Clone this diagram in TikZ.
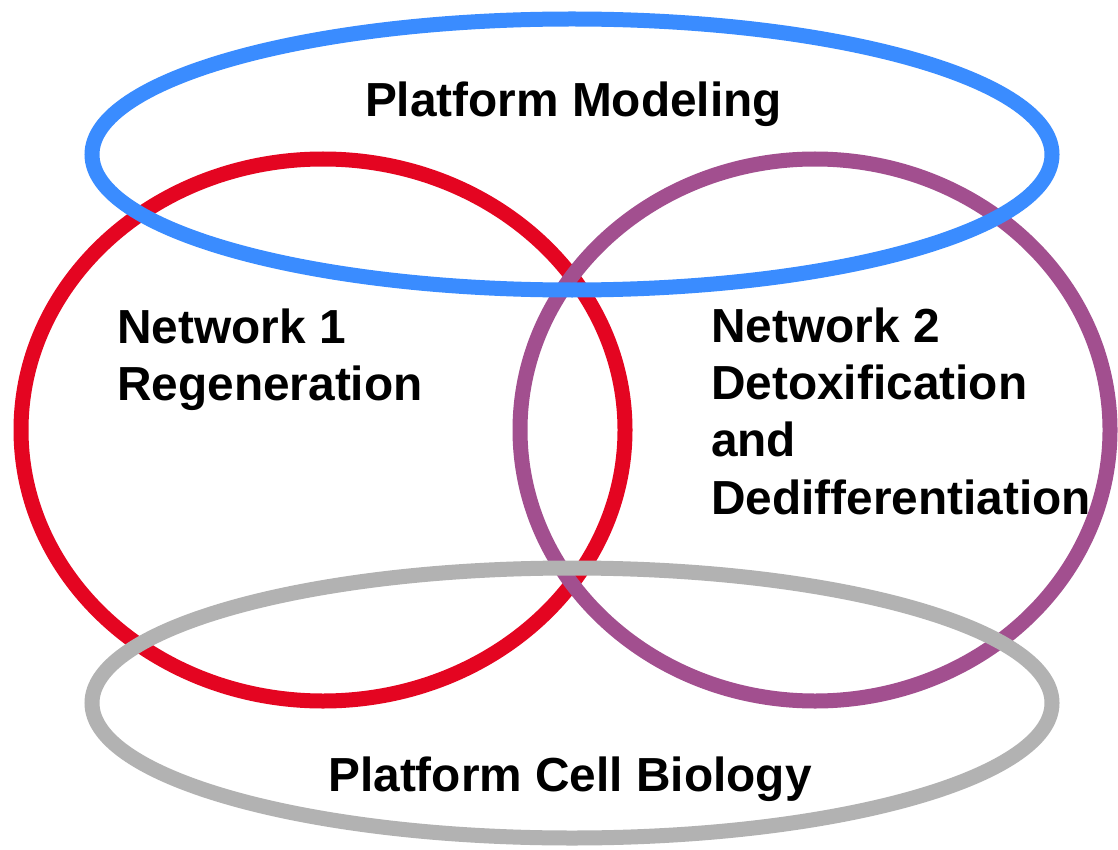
\documentclass[tikz,border=0pt]{standalone}
\usepackage{fontspec}
\setmainfont{Liberation Sans}
\definecolor{cred}{RGB}{228,5,33}
\definecolor{cpurple}{RGB}{162,79,143}
\definecolor{cblue}{RGB}{58,140,255}
\definecolor{cgray}{RGB}{178,178,178}
\tikzset{
  ring/.style={line width=15pt},
  lbl/.style={font=\fontsize{47.8}{57.3}\selectfont\bfseries, inner sep=0pt, align=left},
}
\begin{document}
\begin{tikzpicture}[x=1pt,y=-1pt]
\useasboundingbox (0,0) rectangle (1118,850);
\fill[white] (0,0) rectangle (1118,850);
\draw[ring, cred] (323,430) ellipse [x radius=302pt, y radius=271pt];
\draw[ring, cpurple] (815,430) ellipse [x radius=295pt, y radius=271pt];
\draw[ring, cblue] (572,154.5) ellipse [x radius=480pt, y radius=135.5pt];
\draw[ring, cgray] (572,703) ellipse [x radius=480pt, y radius=135pt];
\node[lbl, anchor=base] (pm) at (573.5,117) {Platform Modeling};
\node[lbl, anchor=base west] (n1) at (117,400.5) {Network 1\\Regeneration};
\node[lbl, anchor=base west] (n2) at (711,514) {Network 2\\Detoxification\\and\\Dedifferentiation};
\node[lbl, anchor=base] (pcb) at (570,791) {Platform Cell Biology};
\end{tikzpicture}
\end{document}
